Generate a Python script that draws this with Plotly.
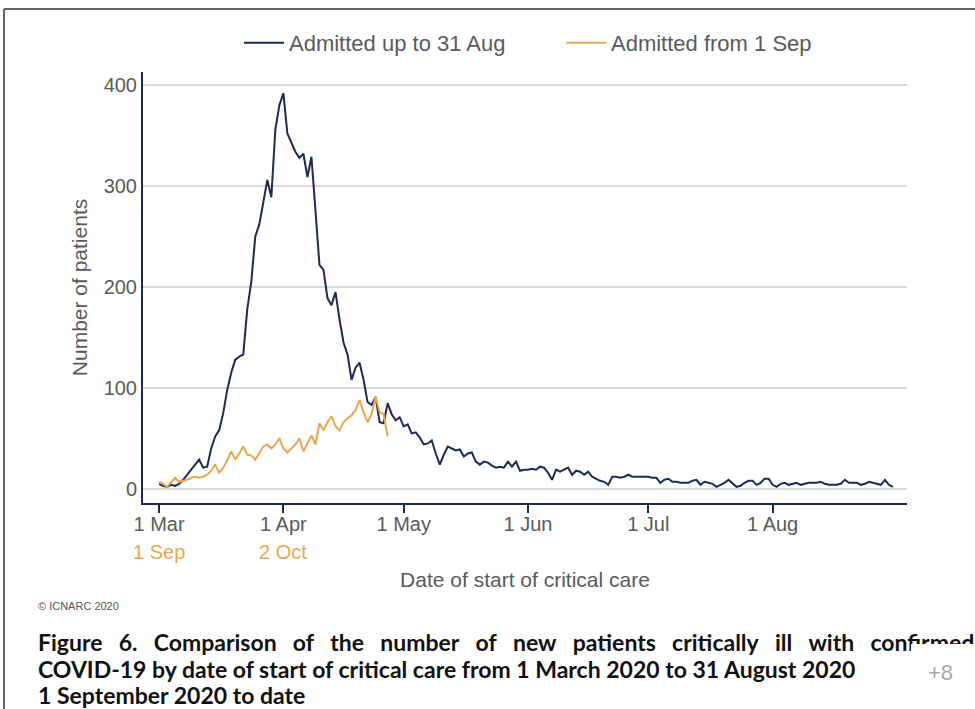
import plotly.graph_objects as go
import pandas as pd

# ---- data ----
axis_start = "2020-03-01"          # 1 Mar (first period) aligned with 1 Sep (second period)

admitted_up_to_31_aug = [
    5, 3, 2, 4, 3, 5, 9, 14, 19, 24,
    29, 21, 22, 40, 52, 58, 75, 98, 115, 128,
    131, 133, 178, 205, 250, 262, 285, 306, 289, 356,
    380, 392, 352, 342, 334, 328, 332, 309, 329, 276,
    222, 217, 189, 182, 195, 168, 145, 133, 108, 120,
    125, 108, 86, 83, 91, 66, 65, 85, 74, 68,
    71, 62, 64, 55, 56, 51, 44, 45, 48, 35,
    24, 34, 42, 40, 38, 39, 32, 35, 36, 27,
    24, 27, 26, 23, 21, 22, 21, 27, 22, 27,
    18, 19, 19, 20, 19, 22, 21, 16, 9, 19,
    17, 19, 21, 14, 18, 17, 14, 17, 12, 10,
    8, 7, 4, 12, 12, 11, 12, 14, 12, 12,
    12, 12, 12, 11, 11, 6, 9, 10, 7, 7,
    6, 6, 6, 8, 9, 4, 7, 6, 5, 2,
    4, 6, 9, 5, 2, 3, 6, 8, 8, 4,
    6, 10, 10, 4, 2, 5, 6, 4, 5, 6,
    4, 5, 6, 6, 6, 7, 5, 4, 4, 4,
    5, 9, 6, 6, 6, 4, 5, 7, 6, 5,
    4, 9, 4, 2,
]

admitted_from_1_sep = [
    7, 5, 2, 6, 11, 7, 8, 9, 11, 12,
    11, 12, 14, 18, 24, 16, 21, 28, 37, 29,
    35, 42, 34, 33, 29, 35, 42, 44, 40, 44,
    50, 40, 36, 40, 44, 50, 37, 45, 53, 44,
    65, 58, 66, 72, 62, 58, 66, 70, 73, 78,
    88, 76, 66, 74, 91, 76, 74, 52,
]

x_tick_dates = ["2020-03-01", "2020-04-01", "2020-05-01", "2020-06-01", "2020-07-01", "2020-08-01"]
x_tick_labels = ["1 Mar", "1 Apr", "1 May", "1 Jun", "1 Jul", "1 Aug"]
second_tick_dates = ["2020-03-01", "2020-04-01"]
second_tick_labels = ["1 Sep", "2 Oct"]
y_ticks = [0, 100, 200, 300, 400]

caption_lines = [
    "Figure 6.  Comparison of the number of new patients critically ill with confirmed",
    "COVID-19 by date of start of critical care from 1 March 2020 to 31 August 2020",
    "1 September 2020 to date",
]

# ---- styling ----
NAVY = "#1c2a55"
ORANGE = "#eba651"
GREY_TXT = "#5a5a5a"
GRID = "#d9d9d9"
FONT = "Liberation Sans, Arial, sans-serif"
CAP_FONT = "Lato, sans-serif"

W, H = 975, 709
L, R, T, B = 143, 68, 72, 206
PW, PH = W - L - R, H - T - B


def px_x(p):
    return (p - L) / PW


def px_y(p):
    return (H - B - p) / PH


dates1 = pd.date_range(axis_start, periods=len(admitted_up_to_31_aug), freq="D")
dates2 = pd.date_range(axis_start, periods=len(admitted_from_1_sep), freq="D")

fig = go.Figure()
fig.add_trace(go.Scatter(x=dates1, y=admitted_up_to_31_aug, mode="lines",
                         name="Admitted up to 31 Aug",
                         line=dict(color=NAVY, width=2)))
fig.add_trace(go.Scatter(x=dates2, y=admitted_from_1_sep, mode="lines",
                         name="Admitted from 1 Sep",
                         line=dict(color=ORANGE, width=2)))

fig.update_layout(
    width=W, height=H,
    margin=dict(l=L, r=R, t=T, b=B, pad=0),
    paper_bgcolor="white", plot_bgcolor="white",
    font=dict(family=FONT, size=20, color=GREY_TXT),
    showlegend=True,
    legend=dict(orientation="h", x=px_x(239), y=px_y(43), xanchor="left", yanchor="middle",
                font=dict(size=22, color=GREY_TXT), entrywidth=267, itemwidth=40,
                bgcolor="rgba(0,0,0,0)"),
)

fig.update_xaxes(
    type="date",
    range=["2020-02-26", "2020-09-03 12:00"],
    tickvals=x_tick_dates, ticktext=x_tick_labels,
    ticks="outside", ticklen=8, tickwidth=2, tickcolor=NAVY,
    ticklabelstandoff=-6,
    showline=True, linecolor=NAVY, linewidth=2,
    showgrid=False, zeroline=False,
    tickfont=dict(size=20, color=GREY_TXT),
    title=dict(text="Date of start of critical care", font=dict(size=21, color=GREY_TXT), standoff=38),
)
fig.update_yaxes(
    range=[-14, 413],
    tickvals=y_ticks,
    ticks="", showline=True, linecolor=NAVY, linewidth=2,
    showgrid=True, gridcolor=GRID, gridwidth=2, zeroline=False,
    tickfont=dict(size=20, color=GREY_TXT),
    title=dict(text="Number of patients", font=dict(size=21, color=GREY_TXT), standoff=10),
)

# second row of x labels (1 Sep, 2 Oct)
for d, t in zip(second_tick_dates, second_tick_labels):
    fig.add_annotation(x=d, xref="x", y=px_y(552), yref="paper", text=t, showarrow=False,
                       xanchor="center", yanchor="middle",
                       font=dict(size=20, color=ORANGE, family=FONT))

# copyright
fig.add_annotation(x=px_x(36), y=px_y(606), xref="paper", yref="paper", text="© ICNARC 2020",
                   showarrow=False, xanchor="left", yanchor="middle",
                   font=dict(size=11, color="#555555", family=FONT))

# caption (first line is justified in the original, so its word gaps are wider)
caption_texts = [caption_lines[0].replace("  ", " ").replace(" ", "\u2007\u2009"),
                 caption_lines[1], caption_lines[2]]
for line, py in zip(caption_texts, [642, 669, 695]):
    fig.add_annotation(x=px_x(36), y=px_y(py), xref="paper", yref="paper", text="<b>%s</b>" % line,
                       showarrow=False, xanchor="left", yanchor="middle",
                       font=dict(size=23, color="#111111", family=CAP_FONT))

# cover over the lower half of the clipped caption end (as in the screenshot)
fig.add_annotation(x=px_x(911), y=px_y(644), xref="paper", yref="paper", text=" ",
                   showarrow=False, xanchor="left", yanchor="top", width=80, height=18,
                   bgcolor="white", borderpad=0, borderwidth=0)

fig.add_annotation(x=px_x(940), y=px_y(672), xref="paper", yref="paper", text="+8",
                   showarrow=False, xanchor="center", yanchor="middle",
                   font=dict(size=22, color="#a8a8a8", family=FONT))

# screenshot frame (top and left border)
fig.add_shape(type="line", xref="paper", yref="paper", x0=px_x(4), x1=px_x(980), y0=px_y(9), y1=px_y(9),
              line=dict(color="#333333", width=1.5))
fig.add_shape(type="line", xref="paper", yref="paper", x0=px_x(4), x1=px_x(4), y0=px_y(9), y1=px_y(715),
              line=dict(color="#333333", width=1.5))

fig.write_html("out.html", config={"displayModeBar": False},
               post_script="document.body.style.margin='0';")
